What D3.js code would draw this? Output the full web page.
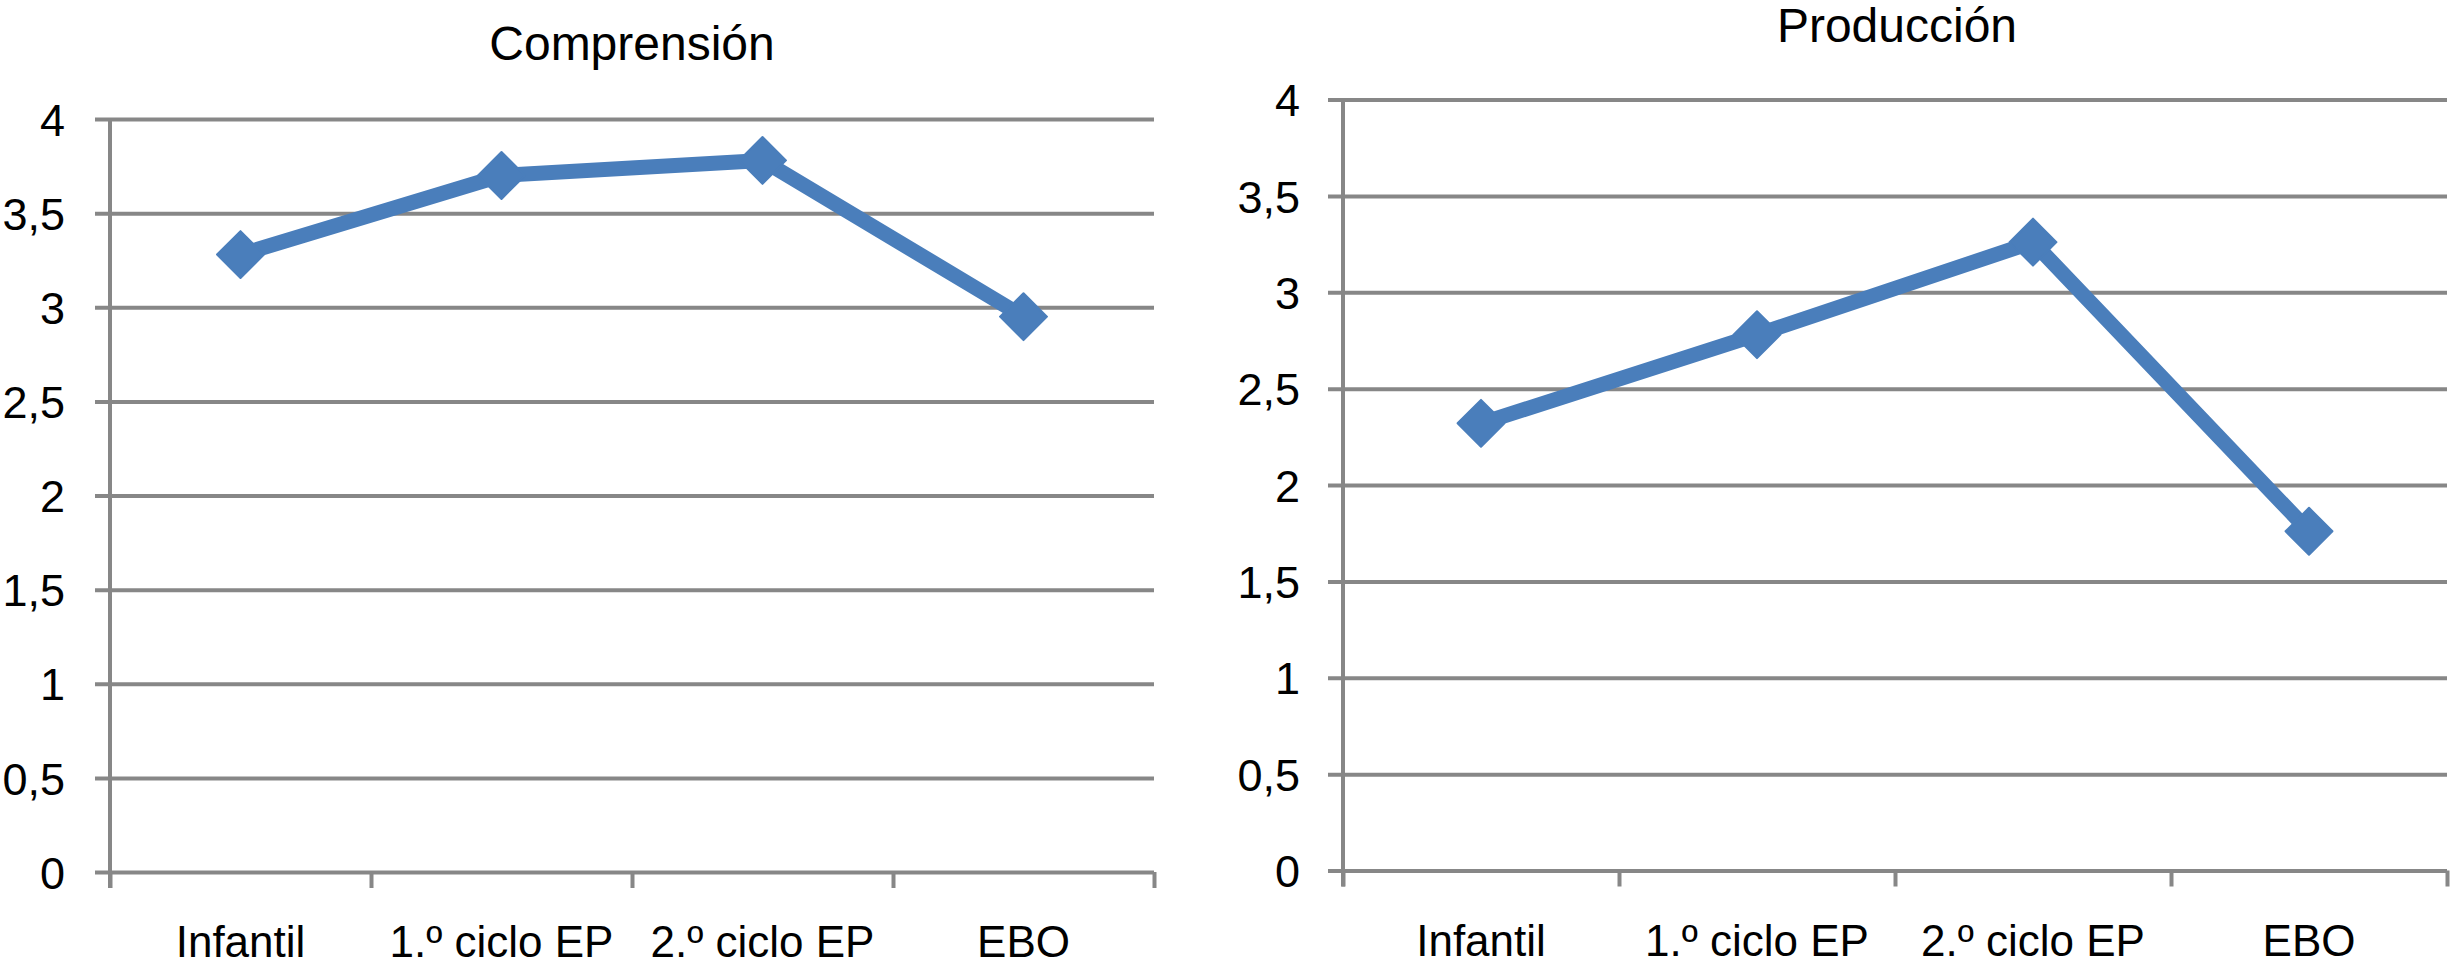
<!DOCTYPE html>
<html>
<head>
<meta charset="utf-8">
<script src="https://cdn.jsdelivr.net/npm/d3@7"></script>
<style>
  body { margin: 0; background: #fff; }
  svg { display: block; font-family: "Liberation Sans", Arial, sans-serif; }
</style>
</head>
<body>
<svg id="chart"></svg>
<script>
const categories = ['Infantil', '1.º ciclo EP', '2.º ciclo EP', 'EBO'];
const comprension = [3.28, 3.70, 3.78, 2.95];
const produccion = [2.32, 2.78, 3.26, 1.76];
const yTicks = [0, 0.5, 1, 1.5, 2, 2.5, 3, 3.5, 4];
const yTickLabels = ['0', '0,5', '1', '1,5', '2', '2,5', '3', '3,5', '4'];
const titles = ['Comprensión', 'Producción'];

const width = 2451;
const height = 967;
const blue = '#4a7ebb';
const grey = '#878787';

const svg = d3.select('#chart')
    .attr('width', width)
    .attr('height', height)
    .attr('viewBox', [0, 0, width, height]);

// two panels, placed like the original figure
const panels = [
    { title: titles[0], values: comprension, left: 110, right: 1154, top: 119, bottom: 872, titleX: 632, titleY: 60, gap: 45 },
    { title: titles[1], values: produccion, left: 1343, right: 2447, top: 99.5, bottom: 870.5, titleX: 1897, titleY: 42, gap: 43 }
];

function drawPanel(p) {
    const g = svg.append('g');

    const xScale = d3.scaleBand()
        .domain(categories)
        .range([p.left, p.right])
        .padding(0);

    const yScale = d3.scaleLinear()
        .domain([0, 4])
        .range([p.bottom, p.top]);

    // y axis + gridlines
    const yAxis = g.append('g')
        .attr('transform', `translate(${p.left}, 0)`)
        .call(d3.axisLeft(yScale)
            .tickValues(yTicks)
            .tickFormat((d, i) => yTickLabels[i])
            .tickSizeInner(-(p.right - p.left))
            .tickSizeOuter(0)
            .tickPadding(p.gap));
    yAxis.select('.domain').remove();
    yAxis.selectAll('.tick line')
        .attr('x1', -15)
        .attr('x2', p.right - p.left)
        .attr('stroke', grey)
        .attr('stroke-width', 4);
    yAxis.selectAll('.tick text')
        .attr('fill', '#000')
        .attr('font-size', 45)
        .attr('dy', '0.36em');

    // vertical axis line
    g.append('line')
        .attr('x1', p.left).attr('x2', p.left)
        .attr('y1', p.top).attr('y2', p.bottom + 16)
        .attr('stroke', grey)
        .attr('stroke-width', 4);

    // category boundary ticks
    const edges = d3.scaleLinear().domain([0, categories.length]).range([p.left, p.right]);
    const tickAxis = g.append('g')
        .attr('transform', `translate(0, ${p.bottom})`)
        .call(d3.axisBottom(edges)
            .tickValues(d3.range(categories.length + 1))
            .tickFormat('')
            .tickSizeInner(16)
            .tickSizeOuter(0));
    tickAxis.select('.domain').remove();
    tickAxis.selectAll('.tick line')
        .attr('stroke', grey)
        .attr('stroke-width', 4);

    // category labels
    const xAxis = g.append('g')
        .attr('transform', `translate(0, ${p.bottom})`)
        .call(d3.axisBottom(xScale).tickSize(0));
    xAxis.select('.domain').remove();
    xAxis.selectAll('.tick text')
        .attr('fill', '#000')
        .attr('font-size', 44)
        .attr('y', 85)
        .attr('dy', 0);

    // series line
    const line = d3.line()
        .x((d, i) => xScale(categories[i]) + xScale.bandwidth() / 2)
        .y(d => yScale(d));

    g.append('path')
        .datum(p.values)
        .attr('d', line)
        .attr('fill', 'none')
        .attr('stroke', blue)
        .attr('stroke-width', 15)
        .attr('stroke-linejoin', 'round');

    // diamond markers
    g.append('g')
        .selectAll('path')
        .data(p.values)
        .join('path')
        .attr('d', d3.symbol(d3.symbolSquare, 1100))
        .attr('transform', (d, i) => `translate(${xScale(categories[i]) + xScale.bandwidth() / 2}, ${yScale(d)}) rotate(45)`)
        .attr('fill', blue)
        .attr('stroke', blue)
        .attr('stroke-width', 2)
        .attr('stroke-linejoin', 'round');

    // title
    g.append('text')
        .attr('x', p.titleX)
        .attr('y', p.titleY)
        .attr('text-anchor', 'middle')
        .attr('font-size', 48)
        .attr('fill', '#000')
        .text(p.title);
}

panels.forEach(drawPanel);
</script>
</body>
</html>
